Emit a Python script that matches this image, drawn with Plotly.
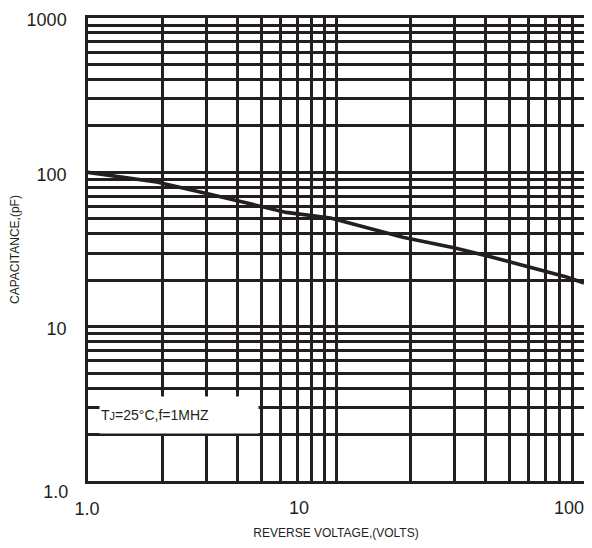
import plotly.graph_objects as go

# Data (log-log)
voltage = [1, 1.89, 2.95, 6.3, 9.5, 18.6, 30.2, 42.7, 85, 100]
capacitance = [100, 86.5, 73.5, 55, 50.6, 38, 32.3, 28.2, 21, 19.2]

x_gridvals = [m * 10 ** e for e in range(0, 2) for m in range(1, 10)] + [100]
y_gridvals = [m * 10 ** e for e in range(0, 3) for m in range(1, 10)] + [1000]
x_labels = {1: "1.0", 10: "10", 100: "100"}
y_labels = {1: "1.0", 10: "10", 100: "100", 1000: "1000"}

annotation_text = "T<span style='font-size:11px'>J</span>=25°C,f=1MHZ"
x_title = "REVERSE VOLTAGE,(VOLTS)"
y_title = "CAPACITANCE,(pF)"

ink = "#231f20"
tick_font = dict(size=18, color=ink)

fig = go.Figure()
fig.add_trace(go.Scatter(x=voltage, y=capacitance, mode="lines",
                         line=dict(color=ink, width=3.6),
                         showlegend=False, hoverinfo="skip"))
# Transparent copies of the curve so the label-only overlay axes get drawn
for xa, ya in (("x2", "y"), ("x3", "y"), ("x", "y2")):
    fig.add_trace(go.Scatter(x=voltage, y=capacitance, mode="lines",
                             xaxis=xa, yaxis=ya, opacity=0,
                             line=dict(color="rgba(0,0,0,0)", width=0),
                             showlegend=False, hoverinfo="skip"))


def label_axis(vals, texts, shift, **kw):
    d = dict(ticks="outside", ticklen=10, tickcolor="rgba(0,0,0,0)",
             tickfont=tick_font, zeroline=False, automargin=False,
             ticklabeloverflow="allow", showgrid=False, showline=False,
             tickvals=vals, ticktext=texts, ticklabelshift=shift)
    d.update(kw)
    return d


fig.update_layout(
    width=584, height=532,
    margin=dict(l=80, r=8, t=10, b=59),
    paper_bgcolor="white", plot_bgcolor="white",
    font=dict(family="Liberation Sans, Arial, sans-serif", color=ink),
    xaxis=dict(type="log", range=[0, 2], tickvals=x_gridvals,
               ticktext=[x_labels[1] if v == 1 else "" for v in x_gridvals],
               showgrid=True, gridcolor=ink, gridwidth=2.5,
               showline=True, linecolor=ink, linewidth=2.5, mirror=True,
               ticks="outside", ticklen=10, tickcolor="rgba(0,0,0,0)",
               tickfont=tick_font, zeroline=False, automargin=False,
               ticklabelshift=-1, ticklabeloverflow="allow",
               title=dict(text=x_title, font=dict(size=12), standoff=18)),
    xaxis2=label_axis([10], [x_labels[10]], -37, type="log", range=[0, 2],
                      overlaying="x", anchor="y", side="bottom"),
    xaxis3=label_axis([100], [x_labels[100]], -15, type="log", range=[0, 2],
                      overlaying="x", anchor="y", side="bottom"),
    yaxis=dict(type="log", range=[0, 3], tickvals=y_gridvals,
               ticktext=[y_labels[v] if v in (10, 100, 1000) else "" for v in y_gridvals],
               showgrid=True, gridcolor=ink, gridwidth=2.5,
               showline=True, linecolor=ink, linewidth=2.5, mirror=True,
               ticks="outside", ticklen=15, tickcolor="rgba(0,0,0,0)",
               tickfont=tick_font, zeroline=False, automargin=False,
               ticklabelshift=2, ticklabeloverflow="allow",
               title=dict(text=y_title, font=dict(size=12), standoff=20)),
    yaxis2=label_axis([1], [y_labels[1]], 11, type="log", range=[0, 3],
                      overlaying="y", anchor="x", side="left", ticklen=15),
    annotations=[dict(text=annotation_text, xref="paper", yref="paper",
                      x=0.1835, y=0.1425, xanchor="center", yanchor="middle",
                      showarrow=False, bgcolor="white", width=156, height=34,
                      align="left", font=dict(size=14, color=ink))],
)

fig.write_html("out.html")
